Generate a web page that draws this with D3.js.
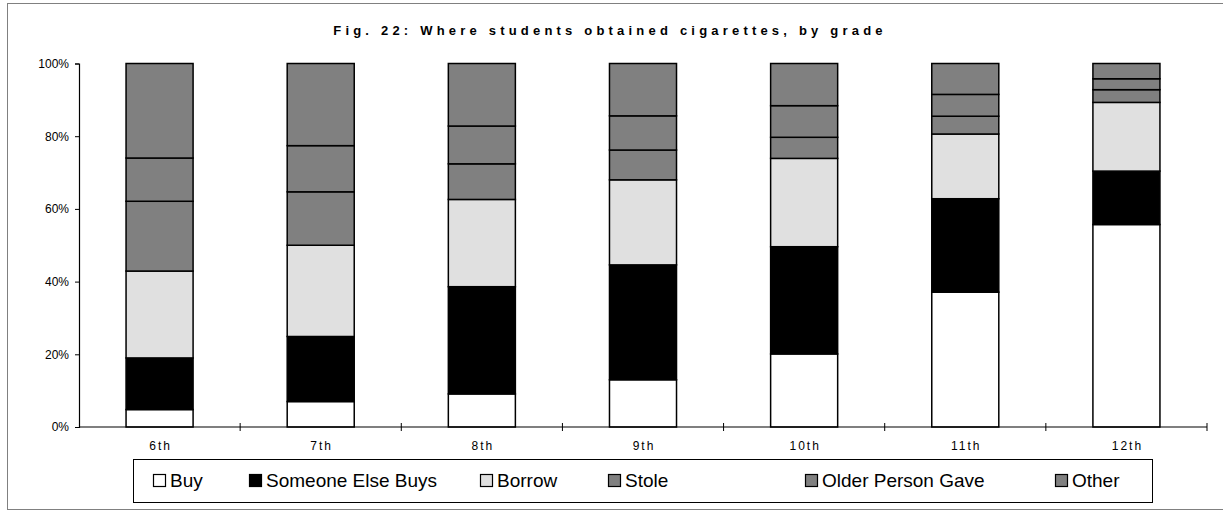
<!DOCTYPE html>
<html>
<head>
<meta charset="utf-8">
<script src="https://cdn.jsdelivr.net/npm/d3@7"></script>
<style>
  html, body { margin: 0; padding: 0; background: #fff; }
  svg { display: block; font-family: Arial, "Liberation Sans", sans-serif; }
</style>
</head>
<body>
<svg id="chart" width="1223" height="511"></svg>
<script>
const grades = ["6th", "7th", "8th", "9th", "10th", "11th", "12th"];
const seriesNames = ["Buy", "Someone Else Buys", "Borrow", "Stole", "Older Person Gave", "Other"];
const buy             = [4.8, 7.0, 9.1, 13.0, 20.1, 37.1, 55.7];
const someoneElseBuys = [14.2, 17.9, 29.5, 31.6, 29.5, 25.7, 14.7];
const borrow          = [23.9, 25.1, 24.0, 23.4, 24.3, 17.8, 18.9];
const stole           = [19.2, 14.7, 9.8, 8.2, 5.8, 4.9, 3.5];
const olderPersonGave = [11.9, 12.7, 10.4, 9.4, 8.7, 6.0, 3.0];
const other           = [26.0, 22.6, 17.2, 14.4, 11.6, 8.5, 4.2];
const yTicks = [0, 0.2, 0.4, 0.6, 0.8, 1.0];
const title = "Fig. 22: Where students obtained cigarettes, by grade";

const seriesValues = [buy, someoneElseBuys, borrow, stole, olderPersonGave, other];
const colors = ["#ffffff", "#000000", "#e0e0e0", "#808080", "#808080", "#808080"];
const legendX = [153, 249, 480, 608, 805, 1055];

const rows = grades.map((g, i) => {
  const r = { grade: g };
  seriesNames.forEach((s, j) => r[s] = seriesValues[j][i]);
  return r;
});
const stacked = d3.stack().keys(seriesNames).offset(d3.stackOffsetExpand)(rows);

const svg = d3.select("#chart");
svg.append("rect").attr("x", 7.5).attr("y", 3.5).attr("width", 1240).attr("height", 506)
  .attr("fill", "#fff").attr("stroke", "#808080").attr("stroke-width", 1);

const x0 = 79, x1 = 1207, yTop = 63.5, yBot = 427;
const x = d3.scaleBand().domain(grades).range([x0, x1]).paddingInner(0.584).paddingOuter(0.292);
const y = d3.scaleLinear().domain([0, 1]).range([yBot, yTop]);

// Title
svg.append("text").attr("x", 610).attr("y", 35).attr("text-anchor", "middle")
  .attr("font-size", 13).attr("font-weight", "bold").attr("letter-spacing", 4.2)
  .attr("fill", "#000").text(title);

// Bars
const g = svg.append("g");
stacked.forEach((layer, j) => {
  g.selectAll(null).data(layer).enter().append("rect")
    .attr("x", d => x(d.data.grade))
    .attr("width", x.bandwidth())
    .attr("y", d => y(d[1]))
    .attr("height", d => y(d[0]) - y(d[1]))
    .attr("fill", colors[j])
    .attr("stroke", "#000").attr("stroke-width", 1.5);
});

// Y axis
const yAxis = svg.append("g").attr("transform", `translate(${x0},0)`)
  .call(d3.axisLeft(y).tickValues(yTicks).tickFormat(d3.format(".0%")).tickSize(4).tickPadding(6));
yAxis.select(".domain").attr("stroke", "#000").attr("stroke-width", 1.2);
yAxis.selectAll(".tick line").attr("stroke", "#000");
yAxis.selectAll(".tick text").attr("font-size", 12).attr("font-family", "Arial, 'Liberation Sans', sans-serif").attr("fill", "#000");

// X axis
const xAxisG = svg.append("g").attr("transform", `translate(0,${yBot})`);
xAxisG.append("line").attr("x1", x0).attr("x2", x1).attr("stroke", "#000").attr("stroke-width", 1.2);
const step = x.step();
const boundaries = d3.range(grades.length + 1).map(i => x0 + i * step);
xAxisG.selectAll(".xt").data(boundaries.slice(1)).enter().append("line")
  .attr("x1", d => d).attr("x2", d => d).attr("y1", -4).attr("y2", 4)
  .attr("stroke", "#000").attr("stroke-width", 1);
xAxisG.selectAll(".xl").data(grades).enter().append("text")
  .attr("x", d => x(d) + x.bandwidth() / 2 + 1).attr("y", 23)
  .attr("text-anchor", "middle").attr("font-size", 12).attr("letter-spacing", 2)
  .attr("fill", "#000").text(d => d);

// Legend
const leg = svg.append("g");
leg.append("rect").attr("x", 133.5).attr("y", 459.5).attr("width", 1019).attr("height", 43)
  .attr("fill", "#fff").attr("stroke", "#000").attr("stroke-width", 1);
seriesNames.forEach((s, j) => {
  const lx = legendX[j];
  leg.append("rect").attr("x", lx + 0.5).attr("y", 474.5).attr("width", 12).attr("height", 12)
    .attr("fill", colors[j]).attr("stroke", "#000").attr("stroke-width", 1.2);
  leg.append("text").attr("x", lx + 17).attr("y", 487).attr("font-size", 19)
    .attr("fill", "#000").text(s);
});
</script>
</body>
</html>
